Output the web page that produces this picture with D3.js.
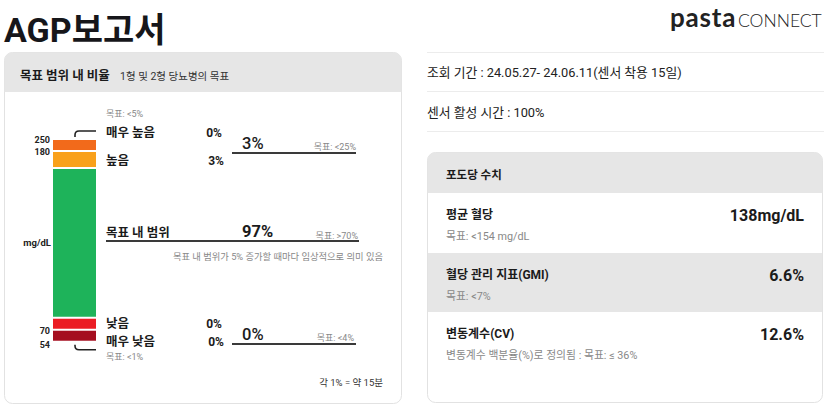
<!DOCTYPE html>
<html><head><meta charset="utf-8">
<script src="https://cdn.jsdelivr.net/npm/d3@7"></script>
<style>
html,body{margin:0;padding:0;background:#fff;}
svg{display:block;font-family:Roboto,"Noto Sans CJK KR","Noto Sans",sans-serif;}
</style></head>
<body>
<svg id="c" width="828" height="419"></svg>
<script>
// ---- data ----
const categories = ["매우 높음", "높음", "목표 내 범위", "낮음", "매우 낮음"];
const percents = [0, 3, 97, 0, 0];
const colors = ["#f26a1b", "#f9a11b", "#1eb35a", "#eb1c24", "#a50e1f"];
const thresholds = ["250", "180", "70", "54"];
const goals = ["목표: <5%", "목표: <25%", "목표: >70%", "목표: <4%", "목표: <1%"];
const combinedHigh = 3, combinedLow = 0;
const infoLabels = ["조회 기간 : 24.05.27- 24.06.11(센서 착용 15일)", "센서 활성 시간 : 100%"];
const metricNames = ["평균 혈당", "혈당 관리 지표(GMI)", "변동계수(CV)"];
const metricValues = ["138mg/dL", "6.6%", "12.6%"];
const metricGoals = ["목표: <154 mg/dL", "목표: <7%", "변동계수 백분율(%)로 정의됨 : 목표: ≤ 36%"];

const svg = d3.select("#c");
const dark = "#1b1b1b", gray = "#888";

// title
svg.append("text").attr("x", 4).attr("y", 42).attr("font-size", 34).attr("font-weight", 700)
  .attr("fill", "#16161a").text("AGP보고서");

// logo
svg.append("text").attr("x", 670).attr("y", 27).attr("font-family", "Lato, 'Open Sans', sans-serif")
  .attr("font-size", 26).attr("font-weight", 700).attr("letter-spacing", 0.8).attr("fill", "#222").text("pasta");
svg.append("text").attr("x", 738).attr("y", 27).attr("font-family", "Lato, 'Open Sans', sans-serif")
  .attr("font-size", 17.5).attr("font-weight", 300).attr("fill", "#222").text("CONNECT");

// ---- left card ----
const L = svg.append("g");
L.append("rect").attr("x", 4.5).attr("y", 52.5).attr("width", 397).attr("height", 351).attr("rx", 8)
  .attr("fill", "#fff").attr("stroke", "#e2e2e2");
L.append("path").attr("d", "M4.5,92 V60.5 a8,8 0 0 1 8,-8 H393.5 a8,8 0 0 1 8,8 V92 Z").attr("fill", "#e6e6e6");
L.append("text").attr("x", 20).attr("y", 80).attr("font-size", 12.5).attr("font-weight", 700).attr("fill", dark).text("목표 범위 내 비율");
L.append("text").attr("x", 120).attr("y", 80).attr("font-size", 10.5).attr("fill", "#333").text("1형 및 2형 당뇨병의 목표");

// stacked bar with a display scale (min height for small shares)
const hScale = d3.scaleLinear().domain([0, 100]).range([10, 152]);
const gap = 2, barX = 53, barW = 43, barTop = 140;
let cy = barTop;
const segs = percents.map((p, i) => {
  const h = i === 1 ? Math.max(hScale(p), 15) : hScale(p);
  const s = {y: cy, h, color: colors[i]};
  cy += h + gap;
  return s;
});
L.selectAll("rect.seg").data(segs).join("rect").attr("class", "seg")
  .attr("x", barX).attr("width", barW).attr("y", d => d.y).attr("height", d => d.h).attr("fill", d => d.color);

// threshold labels
const thrY = [segs[0].y - 0.5, segs[1].y, segs[4].y, segs[4].y + segs[4].h + 4];
L.selectAll("text.thr").data(thresholds).join("text").attr("class", "thr")
  .attr("x", 50).attr("y", (d, i) => thrY[i] + 3).attr("text-anchor", "end")
  .attr("font-size", 9).attr("font-weight", 700).attr("fill", "#222").text(d => d);
L.append("text").attr("x", 51).attr("y", 246).attr("text-anchor", "end").attr("font-size", 9.5)
  .attr("font-weight", 700).attr("fill", "#222").text("mg/dL");

// brackets
L.append("path").attr("d", `M75,${segs[0].y - 3} V135 q0,-4 4,-4 H96`).attr("fill", "none").attr("stroke", "#222").attr("stroke-width", 1.6);
const bb = segs[4].y + segs[4].h;
L.append("path").attr("d", `M75,${bb + 4} V${bb + 5} q0,4 4,4 H96`).attr("fill", "none").attr("stroke", "#222").attr("stroke-width", 1.6);

// category labels
const labY = [132, 160, 232, 323, 341];
L.selectAll("text.cat").data(categories).join("text").attr("class", "cat")
  .attr("x", 106).attr("y", (d, i) => labY[i] + 5).attr("font-size", 12.5).attr("font-weight", 700)
  .attr("fill", dark).text(d => d);
// small percentages
const pctIdx = [0, 1, 3, 4];
L.selectAll("text.pct").data(pctIdx).join("text").attr("class", "pct")
  .attr("x", i => (i === 1 || i === 4) ? 224 : 222).attr("y", i => labY[i] + 5).attr("text-anchor", "end")
  .attr("font-size", 12).attr("font-weight", 700).attr("fill", dark).text(i => percents[i] + "%");

// goals small
L.append("text").attr("x", 106).attr("y", 117).attr("font-size", 9).attr("fill", gray).text(goals[0]);
L.append("text").attr("x", 106).attr("y", 360).attr("font-size", 9).attr("fill", gray).text(goals[4]);

// combined high
L.append("line").attr("x1", 232).attr("x2", 356).attr("y1", 153).attr("y2", 153).attr("stroke", "#3a3a3a").attr("stroke-width", 2);
L.append("text").attr("x", 242).attr("y", 149).attr("font-size", 16.5).attr("font-weight", 500).attr("fill", dark).text(combinedHigh + "%");
L.append("text").attr("x", 356).attr("y", 150).attr("text-anchor", "end").attr("font-size", 9).attr("fill", gray).text(goals[1]);

// in range
L.append("line").attr("x1", 106).attr("x2", 359).attr("y1", 241).attr("y2", 241).attr("stroke", "#3a3a3a").attr("stroke-width", 2);
L.append("text").attr("x", 242).attr("y", 237).attr("font-size", 16.5).attr("font-weight", 700).attr("fill", dark).text(percents[2] + "%");
L.append("text").attr("x", 358).attr("y", 239).attr("text-anchor", "end").attr("font-size", 9).attr("fill", gray).text(goals[2]);
L.append("text").attr("x", 383).attr("y", 260).attr("text-anchor", "end").attr("font-size", 9.3).attr("fill", gray)
  .text("목표 내 범위가 5% 증가할 때마다 임상적으로 의미 있음");

// combined low
L.append("line").attr("x1", 232).attr("x2", 356).attr("y1", 344).attr("y2", 344).attr("stroke", "#3a3a3a").attr("stroke-width", 2);
L.append("text").attr("x", 242).attr("y", 340).attr("font-size", 16.5).attr("font-weight", 500).attr("fill", dark).text(combinedLow + "%");
L.append("text").attr("x", 354).attr("y", 341).attr("text-anchor", "end").attr("font-size", 9).attr("fill", gray).text(goals[3]);

L.append("text").attr("x", 383).attr("y", 386).attr("text-anchor", "end").attr("font-size", 9.5).attr("fill", "#333").text("각 1% = 약 15분");

// ---- right side info ----
const R = svg.append("g");
[52, 91, 131].forEach(y => R.append("line").attr("x1", 427).attr("x2", 824).attr("y1", y + 0.5).attr("y2", y + 0.5).attr("stroke", "#ececec"));
R.selectAll("text.info").data(infoLabels).join("text").attr("class", "info")
  .attr("x", 427).attr("y", (d, i) => 77 + i * 40).attr("font-size", 12.8).attr("fill", "#222").text(d => d);

// right card
R.append("rect").attr("x", 427.5).attr("y", 152.5).attr("width", 395).attr("height", 250).attr("rx", 8)
  .attr("fill", "#fff").attr("stroke", "#e2e2e2");
R.append("path").attr("d", "M427.5,193 V160.5 a8,8 0 0 1 8,-8 H814.5 a8,8 0 0 1 8,8 V193 Z").attr("fill", "#e6e6e6");
R.append("rect").attr("x", 428).attr("y", 253).attr("width", 394).attr("height", 59).attr("fill", "#e6e6e6");
R.append("text").attr("x", 446).attr("y", 179).attr("font-size", 11.5).attr("font-weight", 700).attr("fill", dark).text("포도당 수치");

const rowY = [215, 275, 334];
R.selectAll("text.mn").data(metricNames).join("text").attr("class", "mn")
  .attr("x", 446).attr("y", (d, i) => rowY[i] + 4).attr("font-size", 12).attr("font-weight", 700).attr("fill", dark).text(d => d);
R.selectAll("text.mv").data(metricValues).join("text").attr("class", "mv")
  .attr("x", 804).attr("y", (d, i) => rowY[i] + 6).attr("text-anchor", "end")
  .attr("font-size", 16).attr("font-weight", 700).attr("fill", dark).text(d => d);
R.selectAll("text.mg").data(metricGoals).join("text").attr("class", "mg")
  .attr("x", 446).attr("y", (d, i) => rowY[i] + 25).attr("font-size", 10.8).attr("fill", gray).text(d => d);
</script>
</body></html>
